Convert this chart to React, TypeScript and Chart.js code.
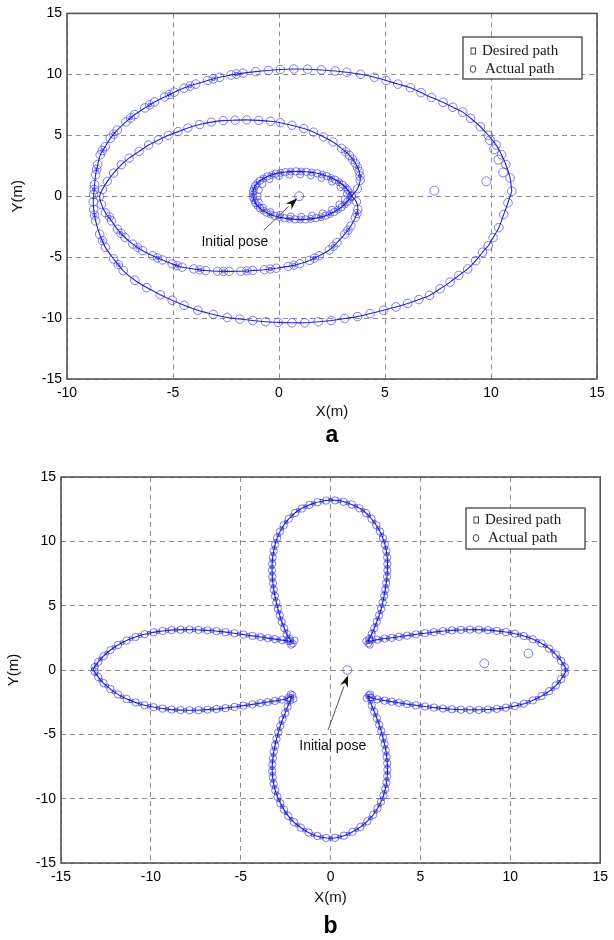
import React, { useEffect, useRef } from 'react';
import { Chart, registerables } from 'chart.js';

Chart.register(...registerables);

type XY = [number, number];

// ---------- Panel (a) ----------
const startA: XY[] = [[0.95, 0], [7.33, 0.46], [9.78, 1.22], [10.57, 1.95], [10.35, 3.0], [10.15, 3.85], [9.95, 4.6]];

const outerLoopA: XY[] = [
  [10.98, 0.41], [10.9, 1.5], [10.7, 2.6], [10.5, 3.4], [10.24, 4.2], [9.87, 5.0], [9.5, 5.7], [9.04, 6.4], [8.67, 6.9],
  [8.2, 7.3], [7.74, 7.7], [7.2, 8.1], [6.7, 8.5], [6.2, 8.9], [5.6, 9.2], [5.05, 9.5], [4.5, 9.76], [3.85, 10.0],
  [3.2, 10.17], [2.65, 10.27], [2.0, 10.36], [1.35, 10.42], [0.7, 10.44], [0.06, 10.4], [-0.5, 10.32], [-1.1, 10.22],
  [-1.7, 10.1], [-2.26, 9.95], [-2.8, 9.76], [-3.37, 9.5], [-3.93, 9.2], [-4.48, 8.87], [-4.94, 8.54], [-5.4, 8.14],
  [-5.87, 7.73], [-6.33, 7.24], [-6.8, 6.7], [-7.22, 6.1], [-7.63, 5.42], [-7.96, 4.75], [-8.2, 4.07], [-8.43, 3.4],
  [-8.55, 2.6], [-8.65, 1.76], [-8.7, 0.95], [-8.74, 0.14], [-8.76, -0.47], [-8.74, -1.08], [-8.65, -2.03],
  [-8.46, -3.12], [-8.19, -4.2], [-7.8, -5.15], [-7.35, -6.1], [-6.8, -6.9], [-6.24, -7.5], [-5.6, -8.08],
  [-5.04, -8.54], [-4.48, -8.95], [-3.83, -9.36], [-3.1, -9.7], [-2.44, -9.95], [-1.85, -10.08], [-1.24, -10.2],
  [-0.63, -10.3], [-0.04, -10.35], [0.61, -10.39], [1.22, -10.39], [1.85, -10.3], [2.46, -10.2], [3.1, -10.04],
  [3.7, -9.88], [4.3, -9.63], [4.93, -9.36], [5.52, -9.09], [6.07, -8.8], [6.6, -8.48], [7.1, -8.14], [7.6, -7.6],
  [8.07, -7.05], [8.48, -6.5], [8.9, -5.97], [9.28, -5.29], [9.6, -4.6], [9.87, -4.07], [10.1, -3.4], [10.37, -2.58],
  [10.6, -1.5], [10.8, -0.54],
];

// second pass of the actual path on the dark upper-left arc of the outer loop
const outerDenseA: XY[] = [
  [-2.0, 10.03], [-3.1, 9.63], [-4.2, 9.04], [-5.17, 8.35], [-6.1, 7.5], [-7.0, 6.42], [-7.8, 5.1], [-8.33, 3.75],
  [-8.6, 2.2], [-8.72, 0.55], [-8.7, -1.55], [-8.33, -3.65], [-7.58, -5.62],
];

const innerLoopA: XY[] = [
  [3.43, 0], [3.7, 0.6], [3.83, 1.3], [3.78, 2.03], [3.6, 2.7], [3.33, 3.34], [2.95, 3.93], [2.55, 4.45], [2.1, 4.86],
  [1.63, 5.26], [1.17, 5.55], [0.61, 5.82], [0.06, 6.03], [-0.4, 6.15], [-0.96, 6.22], [-1.52, 6.26], [-2.07, 6.24],
  [-2.63, 6.2], [-3.19, 6.08], [-3.74, 5.88], [-4.3, 5.6], [-4.76, 5.3], [-5.22, 5.0], [-5.69, 4.62], [-6.15, 4.2],
  [-6.6, 3.68], [-7.07, 3.12], [-7.44, 2.58], [-7.8, 1.9], [-8.1, 1.22], [-8.33, 0.54], [-8.46, 0], [-8.37, -0.68],
  [-8.19, -1.36], [-7.9, -2.03], [-7.63, -2.7], [-7.26, -3.39], [-6.9, -3.93], [-6.43, -4.47], [-5.96, -4.88],
  [-5.5, -5.23], [-5.04, -5.56], [-4.57, -5.83], [-4.02, -5.97], [-3.46, -6.1], [-2.9, -6.16], [-2.35, -6.17],
  [-1.8, -6.16], [-1.24, -6.1], [-0.69, -6.03], [-0.13, -5.91], [0.43, -5.76], [0.98, -5.54], [1.44, -5.27],
  [1.9, -4.88], [2.37, -4.42], [2.74, -3.8], [3.1, -3.12], [3.39, -2.44], [3.6, -1.76], [3.72, -1.08], [3.65, -0.45],
];

// second pass on the dark lower half of the inner loop and its right side
const innerDenseA: XY[] = [
  [-8.0, -1.7], [-7.45, -3.05], [-6.67, -4.2], [-5.73, -5.06], [-4.8, -5.7], [-3.74, -6.04], [-2.62, -6.17],
  [-1.52, -6.13], [-0.41, -5.97], [0.7, -5.66], [1.67, -5.08], [2.56, -4.12], [3.25, -2.78], [3.68, -1.42],
  [3.82, 1.66], [3.7, 2.37], [3.47, 3.02], [3.15, 3.64],
];

const smallLoopA: XY[] = [
  [3.43, 0], [3.25, 0.5], [3.0, 0.95], [2.65, 1.35], [2.25, 1.65], [1.8, 1.88], [1.3, 2.0], [0.8, 2.04], [0.3, 1.98],
  [-0.15, 1.85], [-0.55, 1.62], [-0.9, 1.28], [-1.12, 0.85], [-1.22, 0.4], [-1.22, -0.1], [-1.12, -0.55],
  [-0.9, -0.98], [-0.58, -1.35], [-0.2, -1.62], [0.25, -1.8], [0.75, -1.9], [1.25, -1.9], [1.75, -1.8], [2.2, -1.6],
  [2.6, -1.3], [2.95, -0.9], [3.22, -0.45],
];

const smallLoopMidA: XY[] = [
  [3.35, 0.25], [3.13, 0.73], [2.83, 1.15], [2.45, 1.5], [2.03, 1.77], [1.55, 1.95], [1.05, 2.03], [0.55, 2.02],
  [0.07, 1.92], [-0.35, 1.74], [-0.73, 1.46], [-1.02, 1.07], [-1.18, 0.62], [-1.23, 0.15], [-1.18, -0.33],
  [-1.02, -0.77], [-0.75, -1.17], [-0.4, -1.5], [0.02, -1.72], [0.5, -1.86], [1.0, -1.91], [1.5, -1.86],
  [1.98, -1.71], [2.4, -1.46], [2.78, -1.1], [3.1, -0.68], [3.35, -0.22],
];

const smallLoopInnerA: XY[] = [
  [3.2, 0.2], [2.9, 0.75], [2.5, 1.2], [2.0, 1.5], [1.5, 1.7], [1.0, 1.78], [0.5, 1.76], [0.0, 1.65], [-0.45, 1.4],
  [-0.78, 1.0], [-0.95, 0.5], [-1.0, 0], [-0.95, -0.5], [-0.75, -0.95], [-0.4, -1.3], [0.05, -1.52], [0.55, -1.65],
  [1.05, -1.68], [1.55, -1.6], [2.05, -1.42], [2.5, -1.1], [2.85, -0.68], [3.1, -0.25],
];

// ---------- Panel (b) ----------
const startB: XY[] = [[0.93, 0], [8.55, 0.51], [11.0, 1.28]];

const topPetalB: XY[] = [
  [-2.15, 2.2], [-2.38, 2.6], [-2.5, 3.0], [-2.65, 3.5], [-2.78, 4.0], [-2.88, 4.5], [-2.98, 5.0], [-3.06, 5.5],
  [-3.13, 6.0], [-3.19, 6.5], [-3.23, 7.0], [-3.25, 7.5], [-3.26, 8.0], [-3.24, 8.5], [-3.2, 9.0], [-3.13, 9.5],
  [-3.04, 10.0], [-2.9, 10.5], [-2.72, 11.0], [-2.48, 11.5], [-2.15, 12.0], [-1.8, 12.4], [-1.4, 12.7], [-0.95, 12.95],
  [-0.5, 13.12], [0, 13.2], [0.5, 13.15], [0.95, 12.98], [1.4, 12.72], [1.8, 12.4], [2.12, 12.0], [2.42, 11.5],
  [2.65, 11.0], [2.84, 10.5], [2.97, 10.0], [3.07, 9.5], [3.13, 9.0], [3.16, 8.5], [3.16, 8.0], [3.15, 7.5],
  [3.12, 7.0], [3.07, 6.5], [3.01, 6.0], [2.94, 5.5], [2.86, 5.0], [2.76, 4.5], [2.64, 4.0], [2.5, 3.5], [2.36, 3.0],
  [2.22, 2.6], [2.08, 2.2],
];

const rightPetalB: XY[] = [
  [2.4, 2.3], [2.8, 2.4], [3.2, 2.47], [3.6, 2.54], [4.0, 2.62], [4.5, 2.72], [5.0, 2.82], [5.5, 2.9], [6.0, 2.98],
  [6.5, 3.05], [7.0, 3.1], [7.5, 3.13], [8.0, 3.14], [8.5, 3.12], [9.0, 3.08], [9.5, 3.0], [10.0, 2.9], [10.5, 2.74],
  [11.0, 2.52], [11.5, 2.24], [11.95, 1.88], [12.35, 1.45], [12.7, 0.95], [12.95, 0.45], [13.1, 0], [12.95, -0.45],
  [12.7, -0.95], [12.35, -1.45], [11.95, -1.85], [11.5, -2.2], [11.0, -2.5], [10.5, -2.72], [10.0, -2.88],
  [9.5, -2.98], [9.0, -3.05], [8.5, -3.09], [8.0, -3.1], [7.5, -3.09], [7.0, -3.07], [6.5, -3.02], [6.0, -2.96],
  [5.5, -2.88], [5.0, -2.8], [4.5, -2.7], [4.0, -2.6], [3.6, -2.5], [3.2, -2.42], [2.8, -2.33], [2.4, -2.22],
  [2.08, -2.05],
];

const bottomPetalB: XY[] = [
  [2.22, -2.5], [2.36, -3.0], [2.5, -3.5], [2.64, -4.0], [2.76, -4.5], [2.87, -5.0], [2.96, -5.5], [3.04, -6.0],
  [3.1, -6.5], [3.14, -7.0], [3.16, -7.5], [3.16, -8.0], [3.13, -8.5], [3.08, -9.0], [3.0, -9.5], [2.88, -10.0],
  [2.72, -10.5], [2.5, -11.0], [2.22, -11.5], [1.85, -12.0], [1.45, -12.4], [0.98, -12.75], [0.5, -12.98],
  [0, -13.08], [-0.5, -13.0], [-0.98, -12.8], [-1.45, -12.45], [-1.85, -12.05], [-2.2, -11.6], [-2.48, -11.1],
  [-2.7, -10.6], [-2.88, -10.1], [-3.02, -9.6], [-3.13, -9.1], [-3.2, -8.6], [-3.24, -8.1], [-3.25, -7.6],
  [-3.23, -7.1], [-3.19, -6.6], [-3.13, -6.1], [-3.05, -5.6], [-2.96, -5.1], [-2.86, -4.6], [-2.74, -4.1],
  [-2.6, -3.6], [-2.46, -3.1], [-2.32, -2.6], [-2.17, -2.05],
];

const leftPetalB: XY[] = [
  [-2.5, -2.25], [-2.9, -2.36], [-3.3, -2.45], [-3.7, -2.53], [-4.1, -2.62], [-4.6, -2.72], [-5.1, -2.82],
  [-5.6, -2.92], [-6.1, -3.0], [-6.6, -3.06], [-7.1, -3.1], [-7.6, -3.13], [-8.1, -3.13], [-8.6, -3.1], [-9.1, -3.04],
  [-9.6, -2.95], [-10.1, -2.82], [-10.6, -2.64], [-11.1, -2.4], [-11.6, -2.08], [-12.05, -1.7], [-12.45, -1.25],
  [-12.8, -0.78], [-13.05, -0.3], [-13.2, 0.05], [-13.05, 0.4], [-12.8, 0.85], [-12.45, 1.32], [-12.05, 1.75],
  [-11.6, 2.12], [-11.1, 2.44], [-10.6, 2.68], [-10.1, 2.86], [-9.6, 2.98], [-9.1, 3.07], [-8.6, 3.12], [-8.1, 3.14],
  [-7.6, 3.13], [-7.1, 3.1], [-6.6, 3.05], [-6.1, 2.98], [-5.6, 2.9], [-5.1, 2.8], [-4.6, 2.7], [-4.1, 2.6],
  [-3.7, 2.52], [-3.3, 2.44], [-2.9, 2.36], [-2.5, 2.28],
];

// actual-path samples lying between the desired samples
const topActualB: XY[] = [
  [-2.27, 2.4], [-2.44, 2.8], [-2.58, 3.25], [-2.72, 3.75], [-2.83, 4.25], [-2.93, 4.75], [-3.02, 5.25], [-3.1, 5.75],
  [-3.16, 6.25], [-3.21, 6.75], [-3.24, 7.25], [-3.26, 7.75], [-3.25, 8.25], [-3.22, 8.75], [-3.17, 9.25],
  [-3.09, 9.75], [-2.98, 10.25], [-2.82, 10.75], [-2.61, 11.25], [-2.33, 11.75], [-1.98, 12.2], [-1.6, 12.55],
  [-1.18, 12.83], [-0.73, 13.04], [-0.25, 13.17], [0.25, 13.18], [0.73, 13.07], [1.18, 12.86], [1.6, 12.57],
  [1.97, 12.2], [2.28, 11.75], [2.54, 11.25], [2.75, 10.75], [2.91, 10.25], [3.02, 9.75], [3.1, 9.25], [3.15, 8.75],
  [3.16, 8.25], [3.16, 7.75], [3.14, 7.25], [3.1, 6.75], [3.04, 6.25], [2.98, 5.75], [2.9, 5.25], [2.81, 4.75],
  [2.7, 4.25], [2.57, 3.75], [2.43, 3.25], [2.29, 2.8], [2.15, 2.4],
];

const rightActualB: XY[] = [
  [2.6, 2.35], [3.0, 2.44], [3.4, 2.5], [3.8, 2.58], [4.25, 2.67], [4.75, 2.77], [5.25, 2.86], [5.75, 2.94],
  [6.25, 3.02], [6.75, 3.08], [7.25, 3.12], [7.75, 3.14], [8.25, 3.13], [8.75, 3.1], [9.25, 3.04], [9.75, 2.95],
  [10.25, 2.82], [10.75, 2.64], [11.25, 2.39], [11.73, 2.07], [12.15, 1.67], [12.53, 1.2], [12.83, 0.7],
  [13.03, 0.22], [13.03, -0.22], [12.83, -0.7], [12.53, -1.2], [12.15, -1.65], [11.73, -2.03], [11.25, -2.36],
  [10.75, -2.62], [10.25, -2.8], [9.75, -2.93], [9.25, -3.02], [8.75, -3.07], [8.25, -3.1], [7.75, -3.1],
  [7.25, -3.08], [6.75, -3.05], [6.25, -2.99], [5.75, -2.92], [5.25, -2.84], [4.75, -2.75], [4.25, -2.65],
  [3.8, -2.55], [3.4, -2.46], [3.0, -2.38], [2.6, -2.28], [2.22, -2.14],
];

const bottomActualB: XY[] = [
  [2.29, -2.75], [2.43, -3.25], [2.57, -3.75], [2.7, -4.25], [2.82, -4.75], [2.92, -5.25], [3.0, -5.75],
  [3.07, -6.25], [3.12, -6.75], [3.15, -7.25], [3.16, -7.75], [3.15, -8.25], [3.11, -8.75], [3.04, -9.25],
  [2.94, -9.75], [2.8, -10.25], [2.61, -10.75], [2.37, -11.25], [2.04, -11.75], [1.66, -12.2], [1.22, -12.58],
  [0.74, -12.88], [0.25, -13.04], [-0.25, -13.05], [-0.74, -12.9], [-1.22, -12.63], [-1.66, -12.25],
  [-2.03, -11.83], [-2.35, -11.35], [-2.6, -10.85], [-2.8, -10.35], [-2.96, -9.85], [-3.08, -9.35], [-3.17, -8.85],
  [-3.22, -8.35], [-3.25, -7.85], [-3.24, -7.35], [-3.21, -6.85], [-3.16, -6.35], [-3.09, -5.85], [-3.01, -5.35],
  [-2.91, -4.85], [-2.8, -4.35], [-2.67, -3.85], [-2.53, -3.35], [-2.39, -2.85], [-2.25, -2.35],
];

const leftActualB: XY[] = [
  [-2.33, -2.15], [-2.7, -2.3], [-3.1, -2.4], [-3.5, -2.49], [-3.9, -2.57], [-4.35, -2.67], [-4.85, -2.77],
  [-5.35, -2.87], [-5.85, -2.96], [-6.35, -3.03], [-6.85, -3.08], [-7.35, -3.12], [-7.85, -3.13], [-8.35, -3.12],
  [-8.85, -3.07], [-9.35, -3.0], [-9.85, -2.89], [-10.35, -2.74], [-10.85, -2.53], [-11.35, -2.25], [-11.83, -1.9],
  [-12.25, -1.48], [-12.63, -1.02], [-12.93, -0.55], [-13.13, -0.12], [-13.13, 0.22], [-12.93, 0.62],
  [-12.63, 1.08], [-12.25, 1.54], [-11.83, 1.94], [-11.35, 2.29], [-10.85, 2.57], [-10.35, 2.78], [-9.85, 2.93],
  [-9.35, 3.03], [-8.85, 3.1], [-8.35, 3.13], [-7.85, 3.14], [-7.35, 3.12], [-6.85, 3.08], [-6.35, 3.02],
  [-5.85, 2.94], [-5.35, 2.85], [-4.85, 2.75], [-4.35, 2.65], [-3.9, 2.56], [-3.5, 2.48], [-3.1, 2.4],
  [-2.7, 2.32], [-2.32, 2.24],
];

const neckKnotsB: XY[] = [
  [-2.1, 2.05], [-2.25, 2.25], [-2.0, 2.3], [-2.2, 1.95], [2.1, 2.05], [2.2, 2.3], [1.98, 2.25], [2.18, 1.95],
  [2.12, -1.95], [2.0, -2.2], [2.25, -2.15], [2.2, -1.88], [-2.12, -1.95], [-2.25, -2.2], [-2.05, -2.25], [-2.22, -1.88],
];

// ---------- Labels ----------
const tickStep = 5;
const legendLabels = ['Desired path', 'Actual path'];
const annotationText = 'Initial pose';

const SANS = '"Liberation Sans", Arial, Helvetica, sans-serif';
const SERIF = '"Liberation Serif", "Times New Roman", serif';

const toPts = (a: XY[]) => a.map(([x, y]) => ({ x, y }));
const closed = (a: XY[]) => toPts([...a, a[0]]);

const CIRCLE = 'rgba(75,75,240,0.72)';
const SQUARE = 'rgba(50,50,220,0.65)';
const LINE = 'rgba(15,15,190,0.9)';

const overlayPlugin = {
  id: 'overlay',
  afterDraw(chart: any, _args: any, o: any) {
    const { ctx, chartArea: ca, scales } = chart;
    const sx = scales.x, sy = scales.y;
    ctx.save();
    ctx.strokeStyle = '#555';
    ctx.lineWidth = 1.6;
    ctx.strokeRect(ca.left, ca.top, ca.right - ca.left, ca.bottom - ca.top);

    const L = o.legend;
    ctx.fillStyle = '#fff';
    ctx.fillRect(L.left, L.top, L.w, L.h);
    ctx.strokeStyle = '#333';
    ctx.lineWidth = 1.2;
    ctx.strokeRect(L.left, L.top, L.w, L.h);
    ctx.strokeStyle = '#444';
    ctx.lineWidth = 1;
    ctx.strokeRect(L.left + 8, L.row1 - 3, 4.5, 6);
    ctx.beginPath();
    ctx.ellipse(L.left + 10, L.row2, 2.8, 3.4, 0, 0, Math.PI * 2);
    ctx.stroke();
    ctx.fillStyle = '#1a1a1a';
    ctx.font = '15px ' + SERIF;
    ctx.textBaseline = 'middle';
    ctx.textAlign = 'left';
    ctx.fillText(legendLabels[0], L.left + 19, L.row1);
    ctx.fillText(legendLabels[1], L.left + 22, L.row2);

    const A = o.annot;
    const tx = sx.getPixelForValue(A.text.x), ty = sy.getPixelForValue(A.text.y);
    ctx.font = '14px ' + SANS;
    ctx.textAlign = 'center';
    ctx.fillStyle = '#111';
    ctx.fillText(annotationText, tx, ty);
    const x0 = sx.getPixelForValue(A.from.x), y0 = sy.getPixelForValue(A.from.y);
    const x1 = sx.getPixelForValue(A.to.x), y1 = sy.getPixelForValue(A.to.y);
    const ang = Math.atan2(y1 - y0, x1 - x0);
    const hl = 12, hw = 4.2;
    const bx = x1 - hl * Math.cos(ang), by = y1 - hl * Math.sin(ang);
    ctx.strokeStyle = '#555';
    ctx.lineWidth = 1;
    ctx.beginPath();
    ctx.moveTo(x0, y0);
    ctx.lineTo(bx, by);
    ctx.stroke();
    ctx.fillStyle = '#111';
    ctx.beginPath();
    ctx.moveTo(x1, y1);
    ctx.lineTo(bx + hw * Math.sin(ang), by - hw * Math.cos(ang));
    ctx.lineTo(x1 - 0.7 * hl * Math.cos(ang), y1 - 0.7 * hl * Math.sin(ang));
    ctx.lineTo(bx - hw * Math.sin(ang), by + hw * Math.cos(ang));
    ctx.closePath();
    ctx.fill();

    ctx.font = 'bold 23px ' + SANS;
    ctx.fillStyle = '#000';
    ctx.textAlign = 'center';
    ctx.fillText(o.letter.text, (ca.left + ca.right) / 2, o.letter.y);
    ctx.restore();
  },
};

type Panel = {
  height: number;
  xMin: number; xMax: number; yMin: number; yMax: number;
  padTop: number; padRight: number; yAxisW: number; xAxisH: number;
  xTitlePad: number; yTitlePad: number;
  datasets: any[];
  overlay: any;
};

function circles(data: XY[], r: number) {
  return {
    data: toPts(data), showLine: false, pointStyle: 'circle', pointRadius: r,
    pointBorderWidth: 1, pointBackgroundColor: 'rgba(0,0,0,0)', pointBorderColor: CIRCLE,
  };
}
function squares(data: XY[], r: number) {
  return {
    data: toPts(data), showLine: false, pointStyle: 'rect', pointRadius: r,
    pointBorderWidth: 1, pointBackgroundColor: 'rgba(0,0,0,0)', pointBorderColor: SQUARE,
  };
}
function lineLoop(data: XY[]) {
  return {
    data: closed(data), showLine: true, pointRadius: 0, borderWidth: 1.1, borderColor: LINE,
    tension: 0.3, fill: false,
  };
}

const panelA: Panel = {
  height: 450, xMin: -10, xMax: 15, yMin: -15, yMax: 15,
  padTop: 11, padRight: 17, yAxisW: 67, xAxisH: 71, xTitlePad: 29, yTitlePad: 9,
  datasets: [
    lineLoop(outerLoopA), lineLoop(innerLoopA), lineLoop(smallLoopA),
    squares(outerDenseA, 2.2), squares(innerDenseA, 2.2), squares(smallLoopMidA, 2),
    circles(outerLoopA, 4.3), circles(outerDenseA, 4.3), circles(innerLoopA, 4.2), circles(innerDenseA, 4.2),
    circles(smallLoopA, 3.7), circles(smallLoopMidA, 3.5), circles(smallLoopInnerA, 3.5),
    circles(startA, 4.5),
  ],
  overlay: {
    legend: { left: 463, top: 37, w: 119, h: 42, row1: 51, row2: 69 },
    annot: { text: { x: -2.08, y: -3.75 }, from: { x: -0.72, y: -2.8 }, to: { x: 0.86, y: -0.16 } },
    letter: { text: 'a', y: 436 },
  },
};

const panelB: Panel = {
  height: 490, xMin: -15, xMax: 15, yMin: -15, yMax: 15,
  padTop: 27, padRight: 10, yAxisW: 61, xAxisH: 77, xTitlePad: 33, yTitlePad: 5,
  datasets: [
    lineLoop([...topPetalB, ...rightPetalB, ...bottomPetalB, ...leftPetalB]),
    squares(topPetalB, 2.4), squares(rightPetalB, 2.4), squares(bottomPetalB, 2.4), squares(leftPetalB, 2.4),
    circles(topActualB, 3.7), circles(rightActualB, 3.7), circles(bottomActualB, 3.7), circles(leftActualB, 3.7),
    circles(neckKnotsB, 3.4), circles(startB, 4.4),
  ],
  overlay: {
    legend: { left: 466, top: 58, w: 119, h: 41, row1: 70, row2: 88 },
    annot: { text: { x: 0.12, y: -5.9 }, from: { x: -0.14, y: -4.66 }, to: { x: 0.97, y: -0.4 } },
    letter: { text: 'b', y: 477 },
  },
};

function axisCommon(min: number, max: number) {
  return {
    type: 'linear', min, max,
    ticks: { stepSize: tickStep, color: '#000', font: { family: SANS, size: 14 } },
    grid: { color: '#8f8f8f', lineWidth: 1, drawTicks: false },
    border: { display: false, dash: [5, 4] },
  };
}

function PanelChart({ panel, top }: { panel: Panel; top: number }) {
  const ref = useRef<HTMLCanvasElement | null>(null);
  useEffect(() => {
    if (!ref.current) return;
    const p = panel;
    const xa: any = axisCommon(p.xMin, p.xMax);
    xa.ticks.padding = 6;
    xa.title = { display: true, text: 'X(m)', color: '#111', font: { family: SANS, size: 15 }, padding: { top: 0, bottom: p.xTitlePad } };
    xa.afterFit = (s: any) => { s.height = p.xAxisH; };
    const ya: any = axisCommon(p.yMin, p.yMax);
    ya.ticks.padding = 5;
    ya.title = { display: true, text: 'Y(m)', color: '#111', font: { family: SANS, size: 15 }, padding: { top: p.yTitlePad, bottom: 0 } };
    ya.afterFit = (s: any) => { s.width = p.yAxisW; };
    const chart = new Chart(ref.current, {
      type: 'scatter',
      data: { datasets: p.datasets },
      options: {
        responsive: false,
        animation: false,
        events: [],
        layout: { padding: { left: 0, top: p.padTop, right: p.padRight, bottom: 0 } },
        plugins: { legend: { display: false }, tooltip: { enabled: false }, overlay: p.overlay } as any,
        scales: { x: xa, y: ya },
      } as any,
      plugins: [overlayPlugin as any],
    });
    return () => chart.destroy();
  }, [panel]);
  return (
    <canvas
      ref={ref}
      width={614}
      height={panel.height}
      style={{ position: 'absolute', left: 0, top, width: 614, height: panel.height }}
    />
  );
}

export default function App() {
  return (
    <div style={{ position: 'absolute', left: 0, top: 0, width: 614, height: 940, background: '#fff' }}>
      <PanelChart panel={panelA} top={0} />
      <PanelChart panel={panelB} top={450} />
    </div>
  );
}
